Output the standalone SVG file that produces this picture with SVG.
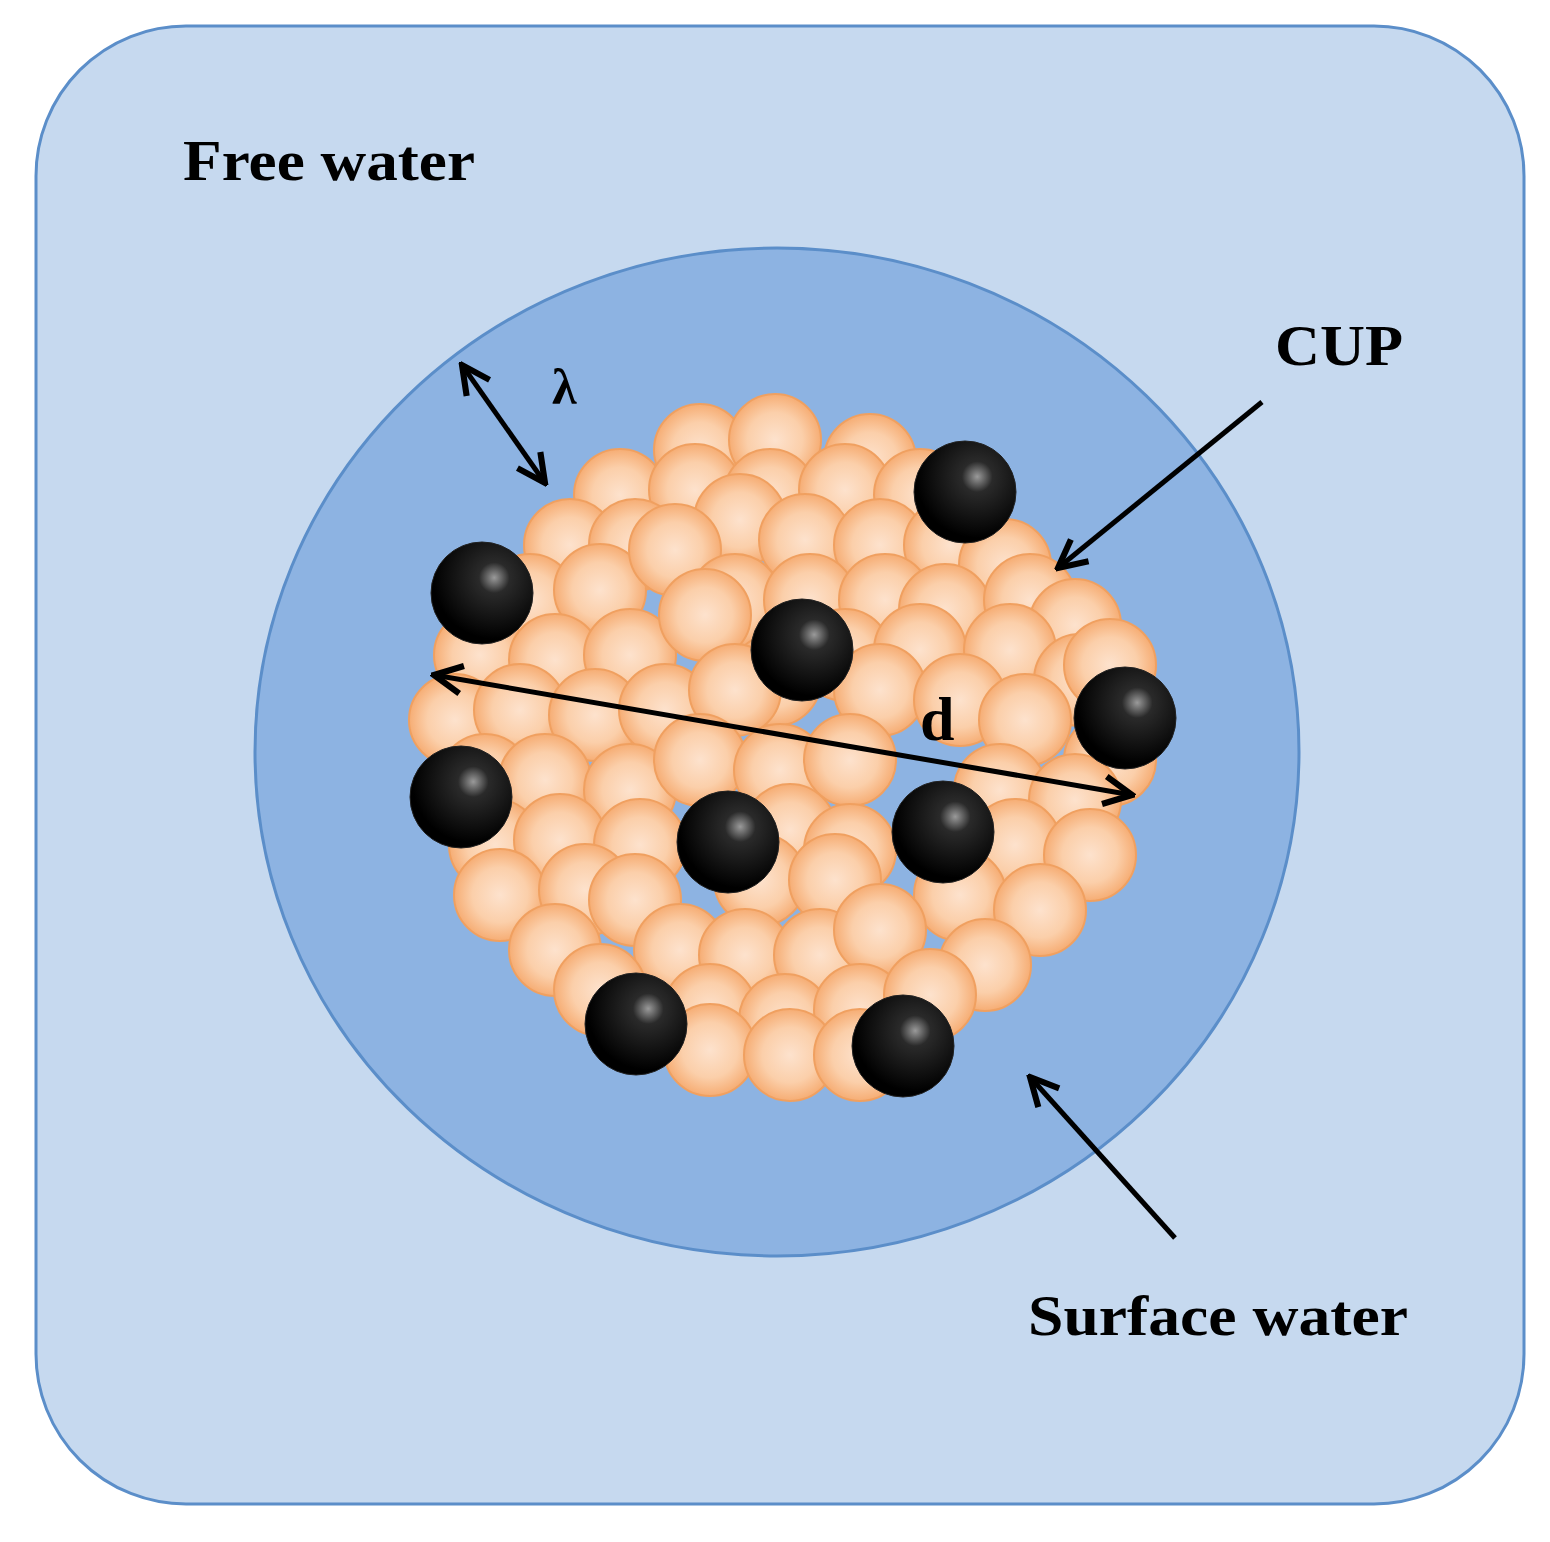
<svg xmlns="http://www.w3.org/2000/svg" width="1550" height="1542" viewBox="0 0 1550 1542">
<defs>
<radialGradient id="og" cx="0.5" cy="0.5" r="0.5"><stop offset="0" stop-color="#fde2cd"/><stop offset="0.6" stop-color="#fbcfaa"/><stop offset="1" stop-color="#f6ad74"/></radialGradient>
<radialGradient id="bg" cx="0.62" cy="0.35" r="0.6"><stop offset="0" stop-color="#9a9a9a"/><stop offset="0.25" stop-color="#2a2a2a"/><stop offset="1" stop-color="#000"/></radialGradient>
<marker id="ah" viewBox="0 0 20 20" refX="18" refY="10" markerWidth="7" markerHeight="7" orient="auto-start-reverse" markerUnits="strokeWidth"><path d="M2,2 L18,10 L2,18" fill="none" stroke="#000" stroke-width="3.5"/></marker>
<style>
.o{fill:url(#og);stroke:#f0a060;stroke-width:2}
.b{fill:url(#bg);stroke:#222;stroke-width:1}
.t{font-family:"Liberation Serif",serif;font-weight:bold;fill:#000}
.a{stroke:#000;stroke-width:5;fill:none;marker-end:url(#ah)}
</style>
</defs>
<rect x="36" y="26" width="1488" height="1478" rx="150" fill="#c6d9ef" stroke="#5b8ec9" stroke-width="3"/>
<ellipse cx="777" cy="752" rx="522" ry="504" fill="#8db3e2" stroke="#5b8ec9" stroke-width="3"/>
<g id="cluster">
<g fill="none">
<circle class="o" cx="700" cy="450" r="46"/><circle class="o" cx="775" cy="440" r="46"/><circle class="o" cx="870" cy="460" r="46"/>
<circle class="o" cx="620" cy="495" r="46"/><circle class="o" cx="695" cy="490" r="46"/><circle class="o" cx="770" cy="495" r="46"/><circle class="o" cx="845" cy="490" r="46"/><circle class="o" cx="920" cy="495" r="46"/>
<circle class="o" cx="570" cy="545" r="46"/><circle class="o" cx="635" cy="545" r="46"/><circle class="o" cx="740" cy="520" r="46"/><circle class="o" cx="805" cy="540" r="46"/><circle class="o" cx="880" cy="545" r="46"/><circle class="o" cx="950" cy="545" r="46"/><circle class="o" cx="1005" cy="565" r="46"/>
<circle class="o" cx="530" cy="600" r="46"/><circle class="o" cx="600" cy="590" r="46"/><circle class="o" cx="675" cy="550" r="46"/><circle class="o" cx="735" cy="600" r="46"/><circle class="o" cx="810" cy="600" r="46"/><circle class="o" cx="885" cy="600" r="46"/><circle class="o" cx="945" cy="610" r="46"/><circle class="o" cx="1030" cy="600" r="46"/><circle class="o" cx="1075" cy="625" r="46"/>
<circle class="o" cx="480" cy="655" r="46"/><circle class="o" cx="555" cy="660" r="46"/><circle class="o" cx="630" cy="655" r="46"/><circle class="o" cx="705" cy="615" r="46"/><circle class="o" cx="775" cy="680" r="46"/><circle class="o" cx="845" cy="655" r="46"/><circle class="o" cx="920" cy="650" r="46"/><circle class="o" cx="1010" cy="650" r="46"/><circle class="o" cx="1080" cy="680" r="46"/><circle class="o" cx="1110" cy="665" r="46"/>
<circle class="o" cx="455" cy="720" r="46"/><circle class="o" cx="520" cy="710" r="46"/><circle class="o" cx="595" cy="715" r="46"/><circle class="o" cx="665" cy="710" r="46"/><circle class="o" cx="735" cy="690" r="46"/><circle class="o" cx="880" cy="690" r="46"/><circle class="o" cx="960" cy="700" r="46"/><circle class="o" cx="1025" cy="720" r="46"/><circle class="o" cx="1110" cy="760" r="46"/>
<circle class="o" cx="485" cy="780" r="46"/><circle class="o" cx="545" cy="780" r="46"/><circle class="o" cx="630" cy="790" r="46"/><circle class="o" cx="700" cy="760" r="46"/><circle class="o" cx="780" cy="770" r="46"/><circle class="o" cx="850" cy="760" r="46"/><circle class="o" cx="1000" cy="790" r="46"/><circle class="o" cx="1075" cy="800" r="46"/>
<circle class="o" cx="495" cy="845" r="46"/><circle class="o" cx="560" cy="840" r="46"/><circle class="o" cx="640" cy="845" r="46"/><circle class="o" cx="790" cy="830" r="46"/><circle class="o" cx="850" cy="850" r="46"/><circle class="o" cx="1015" cy="845" r="46"/><circle class="o" cx="1090" cy="855" r="46"/>
<circle class="o" cx="500" cy="895" r="46"/><circle class="o" cx="585" cy="890" r="46"/><circle class="o" cx="635" cy="900" r="46"/><circle class="o" cx="760" cy="880" r="46"/><circle class="o" cx="835" cy="880" r="46"/><circle class="o" cx="960" cy="895" r="46"/><circle class="o" cx="1040" cy="910" r="46"/>
<circle class="o" cx="555" cy="950" r="46"/><circle class="o" cx="680" cy="950" r="46"/><circle class="o" cx="745" cy="955" r="46"/><circle class="o" cx="820" cy="955" r="46"/><circle class="o" cx="880" cy="930" r="46"/><circle class="o" cx="985" cy="965" r="46"/>
<circle class="o" cx="600" cy="990" r="46"/><circle class="o" cx="710" cy="1010" r="46"/><circle class="o" cx="785" cy="1020" r="46"/><circle class="o" cx="860" cy="1010" r="46"/><circle class="o" cx="930" cy="995" r="46"/>
<circle class="o" cx="710" cy="1050" r="46"/><circle class="o" cx="790" cy="1055" r="46"/><circle class="o" cx="860" cy="1055" r="46"/>
</g>
<circle class="b" cx="965" cy="492" r="51"/><circle class="b" cx="482" cy="593" r="51"/><circle class="b" cx="802" cy="650" r="51"/><circle class="b" cx="1125" cy="718" r="51"/><circle class="b" cx="461" cy="797" r="51"/><circle class="b" cx="728" cy="842" r="51"/><circle class="b" cx="943" cy="832" r="51"/><circle class="b" cx="636" cy="1024" r="51"/><circle class="b" cx="903" cy="1046" r="51"/>
</g>
<g id="connectors">
<line class="a" x1="462" y1="365" x2="545" y2="483" style="marker-start:url(#ah)"/>
<line class="a" x1="1262" y1="402" x2="1058" y2="568"/>
<line class="a" x1="434" y1="675" x2="1132" y2="795" style="marker-start:url(#ah)"/>
<line class="a" x1="1175" y1="1238" x2="1030" y2="1077"/>
</g>
<text class="t" x="183" y="180" font-size="56" textLength="292" lengthAdjust="spacingAndGlyphs">Free water</text>
<text class="t" x="1275" y="365" font-size="56" textLength="128" lengthAdjust="spacingAndGlyphs">CUP</text>
<text class="t" x="552" y="404" font-size="50">λ</text>
<text class="t" x="920" y="740" font-size="62">d</text>
<text class="t" x="1028" y="1335" font-size="56" textLength="380" lengthAdjust="spacingAndGlyphs">Surface water</text>
</svg>
